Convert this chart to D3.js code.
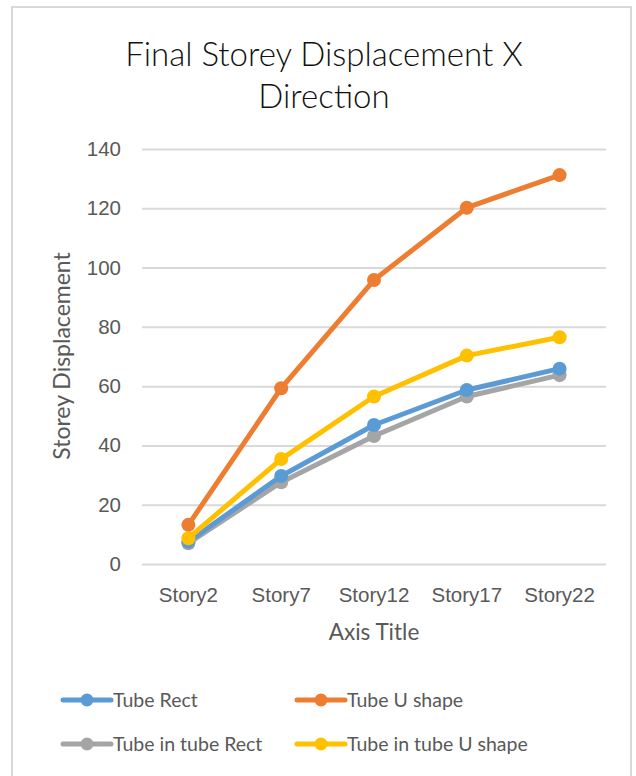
<!DOCTYPE html>
<html>
<head>
<meta charset="utf-8">
<script src="https://cdn.jsdelivr.net/npm/d3@7"></script>
<style>
  html, body { margin: 0; padding: 0; background: #fff; }
  svg { display: block; font-family: Lato, "Open Sans", sans-serif; }
</style>
</head>
<body>
<div id="chart"></div>
<script>
// Chart data
const categories = ["Story2", "Story7", "Story12", "Story17", "Story22"];
const seriesNames = ["Tube Rect", "Tube U shape", "Tube in tube Rect", "Tube in tube U shape"];
const tubeRect = [7.5, 29.7, 46.9, 58.7, 65.9];
const tubeU = [13.2, 59.3, 95.8, 120.2, 131.2];
const tubeInTubeRect = [7.0, 27.6, 43.2, 56.5, 63.7];
const tubeInTubeU = [8.7, 35.4, 56.5, 70.3, 76.5];
const yTicks = [0, 20, 40, 60, 80, 100, 120, 140];
const colors = ["#5b9bd5", "#ed7d31", "#a5a5a5", "#ffc000"];

const seriesValues = [tubeRect, tubeU, tubeInTubeRect, tubeInTubeU];
// draw order: grey first, then blue, yellow, orange on top
const drawOrder = [2, 0, 3, 1];

const width = 636, height = 776;
const margin = { top: 149, right: 30, bottom: 212, left: 142 };

const svg = d3.select("#chart").append("svg")
    .attr("width", width)
    .attr("height", height);

// Outer frame
svg.append("rect")
    .attr("x", 12).attr("y", 7)
    .attr("width", 619).attr("height", 780)
    .attr("fill", "#fff")
    .attr("stroke", "#d9d9d9")
    .attr("stroke-width", 2);

const x = d3.scaleBand().domain(categories).range([margin.left, width - margin.right]);
const y = d3.scaleLinear().domain([0, 140]).range([height - margin.bottom, margin.top]);

// Gridlines
svg.append("g")
    .attr("transform", `translate(${margin.left},0)`)
    .call(d3.axisLeft(y).tickValues(yTicks).tickSize(-(width - margin.right - margin.left)).tickFormat(""))
    .call(g => g.select(".domain").remove())
    .call(g => g.selectAll("line").attr("stroke", "#d9d9d9").attr("stroke-width", 2));

// Y tick labels
svg.append("g")
    .attr("transform", `translate(${margin.left - 21},0)`)
    .call(d3.axisLeft(y).tickValues(yTicks).tickSize(0).tickPadding(0))
    .call(g => g.select(".domain").remove())
    .call(g => g.selectAll("text").attr("fill", "#595959").style("font-size", "20.5px"));

// X tick labels
svg.append("g")
    .attr("transform", `translate(0,${height - margin.bottom + 23})`)
    .call(d3.axisBottom(x).tickSize(0).tickPadding(0))
    .call(g => g.select(".domain").remove())
    .call(g => g.selectAll("text").attr("fill", "#595959").style("font-size", "20.5px").attr("dy", "0.71em"));

// Title
const title = svg.append("text")
    .attr("x", 324).attr("text-anchor", "middle")
    .attr("fill", "#111").style("font-size", "33px").style("font-weight", 300);
title.append("tspan").attr("x", 324).attr("y", 66).text("Final Storey Displacement X");
title.append("tspan").attr("x", 324).attr("y", 108).text("Direction");

// Axis titles
svg.append("text")
    .attr("x", 374).attr("y", 640)
    .attr("text-anchor", "middle")
    .attr("fill", "#595959").style("font-size", "22.5px")
    .text("Axis Title");

svg.append("text")
    .attr("transform", `translate(70,356) rotate(-90)`)
    .attr("text-anchor", "middle")
    .attr("fill", "#595959").style("font-size", "23px")
    .text("Storey Displacement");

// Lines
const line = d3.line()
    .x((d, i) => x(categories[i]) + x.bandwidth() / 2)
    .y(d => y(d));

drawOrder.forEach(si => {
    const g = svg.append("g");
    g.append("path")
        .datum(seriesValues[si])
        .attr("fill", "none")
        .attr("stroke", colors[si])
        .attr("stroke-width", 5)
        .attr("stroke-linejoin", "round")
        .attr("d", line);
    g.selectAll("circle")
        .data(seriesValues[si])
        .join("circle")
        .attr("cx", (d, i) => x(categories[i]) + x.bandwidth() / 2)
        .attr("cy", d => y(d))
        .attr("r", 7)
        .attr("fill", colors[si]);
});

// Legend
const legendPos = [
    { x: 63, y: 700 }, { x: 297, y: 700 },
    { x: 63, y: 744 }, { x: 297, y: 744 }
];
seriesNames.forEach((name, i) => {
    const p = legendPos[i];
    const g = svg.append("g").attr("transform", `translate(${p.x},${p.y})`);
    g.append("line")
        .attr("x1", 0).attr("x2", 48)
        .attr("y1", 0).attr("y2", 0)
        .attr("stroke", colors[i]).attr("stroke-width", 5)
        .attr("stroke-linecap", "round");
    g.append("circle").attr("cx", 24).attr("cy", 0).attr("r", 6.5).attr("fill", colors[i]);
    g.append("text")
        .attr("x", 50).attr("y", 0).attr("dy", "0.35em")
        .attr("fill", "#595959").style("font-size", "19.5px")
        .text(name);
});
</script>
</body>
</html>
